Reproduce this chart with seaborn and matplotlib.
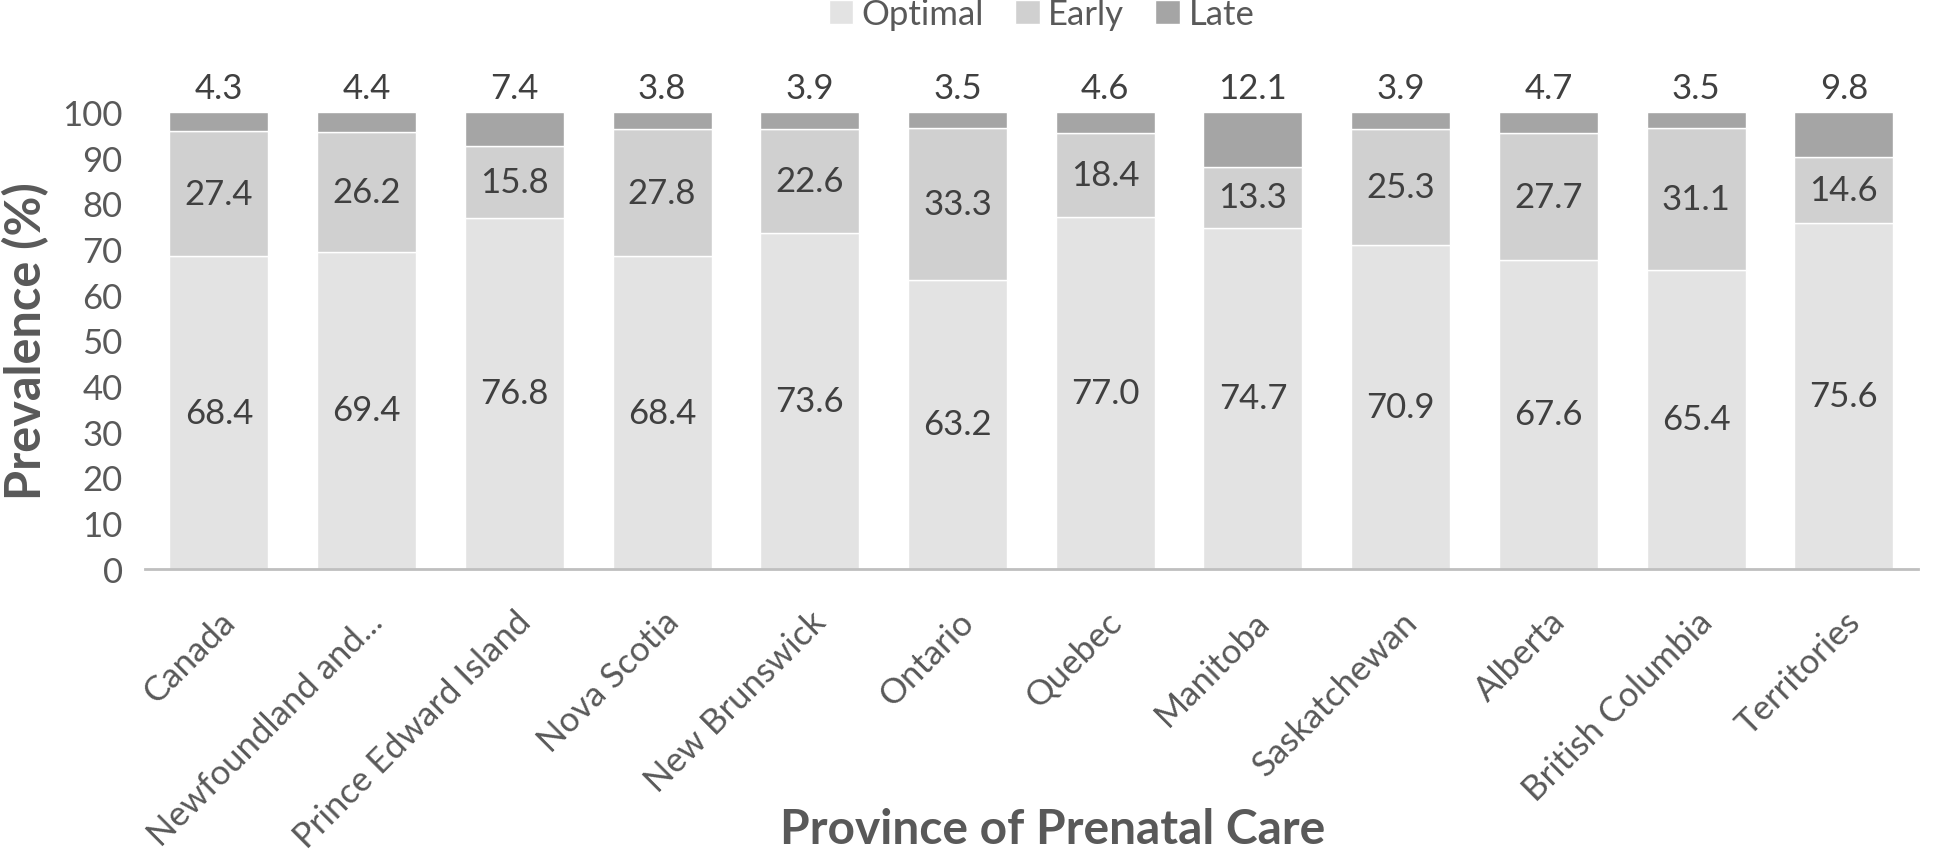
import matplotlib
matplotlib.use('Agg')
import matplotlib.pyplot as plt
import pandas as pd
import numpy as np
import seaborn as sns

# data
provinces = ['Canada', 'Newfoundland and...', 'Prince Edward Island', 'Nova Scotia',
             'New Brunswick', 'Ontario', 'Quebec', 'Manitoba', 'Saskatchewan',
             'Alberta', 'British Columbia', 'Territories']
optimal = [68.4, 69.4, 76.8, 68.4, 73.6, 63.2, 77.0, 74.7, 70.9, 67.6, 65.4, 75.6]
early = [27.4, 26.2, 15.8, 27.8, 22.6, 33.3, 18.4, 13.3, 25.3, 27.7, 31.1, 14.6]
late = [4.3, 4.4, 7.4, 3.8, 3.9, 3.5, 4.6, 12.1, 3.9, 4.7, 3.5, 9.8]

colors = {'Optimal': '#e3e3e3', 'Early': '#d0d0d0', 'Late': '#a5a5a5'}
txt = '#404040'
grey = '#595959'

sns.set_style('white')
plt.rcParams['font.family'] = ['Lato', 'DejaVu Sans']

df = pd.DataFrame({'Province': provinces, 'Optimal': optimal, 'Early': early, 'Late': late})
df['b_early'] = df['Optimal']
df['b_late'] = df['Optimal'] + df['Early']

fig = plt.figure(figsize=(19.43, 8.53), dpi=100)
ax = fig.add_axes([0.0746, 0.332, 0.9124, 0.5355])

sns.barplot(data=df, x='Province', y='Optimal', color=colors['Optimal'], width=0.67,
            saturation=1, ax=ax, label='Optimal')
sns.barplot(data=df, x='Province', y='Early', bottom=df['b_early'], color=colors['Early'],
            width=0.67, saturation=1, ax=ax, label='Early')
sns.barplot(data=df, x='Province', y='Late', bottom=df['b_late'], color=colors['Late'],
            width=0.67, saturation=1, ax=ax, label='Late')
if ax.get_legend() is not None:
    ax.get_legend().remove()

ax.set_ylim(0, 100)
ax.set_xlim(-0.5, len(provinces) - 0.5)
ax.set_yticks(range(0, 101, 10))

# labels
for i in range(len(provinces)):
    ax.text(i, optimal[i] / 2, f'{optimal[i]:.1f}', ha='center', va='center', fontsize=25, color=txt)
    ax.text(i, optimal[i] + early[i] / 2, f'{early[i]:.1f}', ha='center', va='center', fontsize=25, color=txt)
    ax.annotate(f'{late[i]:.1f}', (i, 100), xytext=(0, 6), textcoords='offset points',
                ha='center', va='bottom', fontsize=25, color=txt, annotation_clip=False)

for s in ['top', 'right', 'left']:
    ax.spines[s].set_visible(False)
ax.spines['bottom'].set_color('#bfbfbf')
ax.spines['bottom'].set_linewidth(2)
ax.tick_params(axis='both', length=0, labelsize=25, colors=grey)
ax.tick_params(axis='y', pad=16)
ax.tick_params(axis='x', pad=26)
plt.setp(ax.get_xticklabels(), rotation=45, ha='right', rotation_mode='anchor')

ax.set_xlabel('Province of Prenatal Care', fontsize=34.5, fontweight='bold', color=grey, va='center')
ax.xaxis.set_label_coords(0.512, -0.57)
ax.set_ylabel('Prevalence (%)', fontsize=35, fontweight='bold', color=grey)
ax.yaxis.set_label_coords(-0.054, 0.5)

handles, labels = ax.get_legend_handles_labels()
fig.legend(handles[:3], labels[:3], loc='center', bbox_to_anchor=(0.536, 0.982), ncol=3,
           frameon=False, fontsize=25, labelcolor=grey, handlelength=0.7, handleheight=0.7,
           columnspacing=0.9, handletextpad=0.25)

fig.savefig('out.png', dpi=100)
